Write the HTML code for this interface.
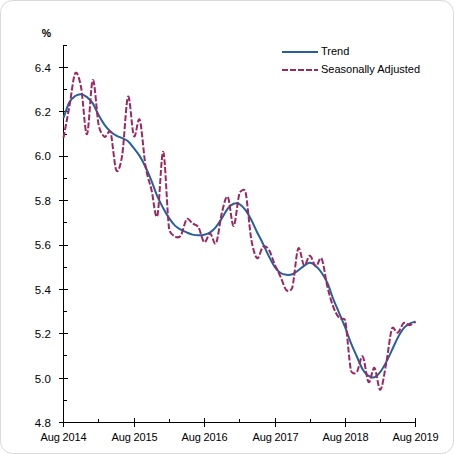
<!DOCTYPE html>
<html><head><meta charset="utf-8"><style>
html,body{margin:0;padding:0;background:#fff;width:454px;height:454px;overflow:hidden}
svg{display:block}
text{font-family:"Liberation Sans",sans-serif}
</style></head><body>
<svg width="454" height="454" viewBox="0 0 454 454">
<rect x="0.5" y="0.5" width="453" height="453" rx="12" ry="12" fill="#fff" stroke="#d9d9d9" stroke-width="1"/>
<path d="M63.5,45 V423 M63,422.5 H416" stroke="#000" stroke-width="1" fill="none" shape-rendering="crispEdges"/>
<path d="M63,45.5 H67 M59,67.5 H68 M63,89.5 H67 M59,111.5 H68 M63,134.5 H67 M59,156.5 H68 M63,178.5 H67 M59,200.5 H68 M63,222.5 H67 M59,245.5 H68 M63,267.5 H67 M59,289.5 H68 M63,311.5 H67 M59,333.5 H68 M63,355.5 H67 M59,378.5 H68 M63,400.5 H67 M59,422.5 H68 M63.5,418 V427 M98.5,419 V422 M134.5,418 V427 M169.5,419 V422 M204.5,418 V427 M239.5,419 V422 M275.5,418 V427 M310.5,419 V422 M345.5,418 V427 M380.5,419 V422 M415.5,418 V427" stroke="#000" stroke-width="1" fill="none" shape-rendering="crispEdges"/>
<path d="M63.50,118.00 C64.48,115.38 67.41,105.97 69.37,102.30 C71.32,98.63 73.28,97.35 75.23,96.00 C77.19,94.65 79.14,94.02 81.10,94.20 C83.06,94.38 85.01,95.57 86.97,97.10 C88.92,98.63 90.88,100.37 92.83,103.40 C94.79,106.43 96.74,111.73 98.70,115.30 C100.66,118.87 102.61,122.12 104.57,124.80 C106.52,127.48 108.48,129.60 110.43,131.40 C112.39,133.20 114.34,134.47 116.30,135.60 C118.26,136.73 120.21,137.25 122.17,138.20 C124.12,139.15 126.08,139.63 128.03,141.30 C129.99,142.97 131.94,145.73 133.90,148.20 C135.86,150.67 137.81,152.93 139.77,156.10 C141.72,159.27 143.68,163.07 145.63,167.20 C147.59,171.33 149.54,176.03 151.50,180.90 C153.46,185.77 155.41,191.85 157.37,196.40 C159.32,200.95 161.28,204.58 163.23,208.20 C165.19,211.82 167.14,215.20 169.10,218.10 C171.06,221.00 173.01,223.68 174.97,225.60 C176.92,227.52 178.88,228.47 180.83,229.60 C182.79,230.73 184.74,231.57 186.70,232.40 C188.66,233.23 190.61,234.12 192.57,234.60 C194.52,235.08 196.48,235.28 198.43,235.30 C200.39,235.32 202.34,235.18 204.30,234.70 C206.26,234.22 208.21,233.72 210.17,232.40 C212.12,231.08 214.08,229.17 216.03,226.80 C217.99,224.43 219.94,221.23 221.90,218.20 C223.86,215.17 225.81,211.02 227.77,208.60 C229.72,206.18 231.68,204.43 233.63,203.70 C235.59,202.97 237.54,203.17 239.50,204.20 C241.46,205.23 243.41,207.30 245.37,209.90 C247.32,212.50 249.28,216.08 251.23,219.80 C253.19,223.52 255.14,228.22 257.10,232.20 C259.06,236.18 261.01,239.70 262.97,243.70 C264.92,247.70 266.88,252.33 268.83,256.20 C270.79,260.07 272.74,264.10 274.70,266.90 C276.66,269.70 278.61,271.68 280.57,273.00 C282.52,274.32 284.48,274.60 286.43,274.80 C288.39,275.00 290.34,274.92 292.30,274.20 C294.26,273.48 296.21,271.90 298.17,270.50 C300.12,269.10 302.08,267.08 304.03,265.80 C305.99,264.52 307.94,262.78 309.90,262.80 C311.86,262.82 313.81,264.25 315.77,265.90 C317.72,267.55 319.68,269.82 321.63,272.70 C323.59,275.58 325.54,278.75 327.50,283.20 C329.46,287.65 331.41,294.42 333.37,299.40 C335.32,304.38 337.28,308.47 339.23,313.10 C341.19,317.73 343.14,322.20 345.10,327.20 C347.06,332.20 349.01,338.22 350.97,343.10 C352.92,347.98 354.88,352.12 356.83,356.50 C358.79,360.88 360.74,366.17 362.70,369.40 C364.66,372.63 366.61,374.60 368.57,375.90 C370.52,377.20 372.48,377.87 374.43,377.20 C376.39,376.53 378.34,374.42 380.30,371.90 C382.26,369.38 384.21,365.77 386.17,362.10 C388.12,358.43 390.08,354.02 392.03,349.90 C393.99,345.78 395.94,341.03 397.90,337.40 C399.86,333.77 401.81,330.40 403.77,328.10 C405.72,325.80 407.68,324.70 409.63,323.60 C411.59,322.50 414.52,321.85 415.50,321.50" stroke="#27609f" stroke-width="2" fill="none" stroke-linejoin="round"/>
<path d="M63.50,137.80 C64.48,132.58 67.41,117.25 69.37,106.50 C71.32,95.75 73.28,76.47 75.23,73.30 C77.19,70.13 79.65,79.96 81.10,87.50 C83.06,97.65 85.01,135.43 86.97,134.20 C88.92,132.97 90.88,81.60 92.83,80.10 C94.79,78.60 96.74,115.75 98.70,125.20 C100.02,131.56 102.61,135.68 104.57,136.80 C106.52,137.92 109.17,128.29 110.43,131.90 C112.39,137.50 114.34,166.48 116.30,170.40 C118.26,174.32 120.90,163.35 122.17,155.40 C124.12,143.12 126.08,99.92 128.03,96.70 C129.99,93.48 131.94,132.23 133.90,136.10 C135.86,139.97 137.81,114.80 139.77,119.90 C141.72,125.00 143.68,155.03 145.63,166.70 C147.59,178.37 149.54,181.73 151.50,189.90 C153.46,198.07 155.41,222.03 157.37,215.70 C159.32,209.37 161.28,149.72 163.23,151.90 C165.19,154.08 167.14,214.70 169.10,228.80 C169.76,233.59 173.01,235.38 174.97,236.50 C176.92,237.62 179.16,237.96 180.83,235.50 C182.79,232.62 184.74,221.20 186.70,219.20 C188.66,217.20 190.61,222.17 192.57,223.50 C194.52,224.83 196.60,224.26 198.43,227.20 C200.39,230.33 202.34,241.27 204.30,242.30 C206.26,243.33 208.21,233.25 210.17,233.40 C212.12,233.55 214.08,246.63 216.03,243.20 C217.99,239.77 219.94,220.52 221.90,212.80 C223.86,205.08 225.81,194.70 227.77,196.90 C229.72,199.10 231.68,226.58 233.63,226.00 C235.59,225.42 237.54,199.18 239.50,193.40 C240.50,190.45 244.59,188.28 245.37,191.30 C247.32,198.90 249.28,227.85 251.23,239.00 C252.97,248.89 255.14,256.90 257.10,258.20 C259.06,259.50 261.01,248.22 262.97,246.80 C264.92,245.38 267.02,246.98 268.83,249.70 C270.79,252.63 272.74,259.88 274.70,264.40 C276.66,268.92 278.61,272.48 280.57,276.80 C282.52,281.12 284.48,288.53 286.43,290.30 C288.39,292.07 291.41,290.55 292.30,287.40 C294.26,280.45 296.21,252.32 298.17,248.60 C300.12,244.88 302.08,263.90 304.03,265.10 C305.99,266.30 307.94,255.58 309.90,255.80 C311.86,256.02 313.81,265.90 315.77,266.40 C317.72,266.90 319.68,255.35 321.63,258.80 C323.59,262.25 325.54,279.05 327.50,287.10 C329.46,295.15 331.41,301.97 333.37,307.10 C335.32,312.23 337.28,315.73 339.23,317.90 C341.19,320.07 344.42,317.04 345.10,320.10 C347.06,328.85 349.01,361.73 350.97,370.40 C351.64,373.38 354.88,374.43 356.83,372.10 C358.79,369.77 360.74,354.73 362.70,356.40 C364.66,358.07 366.61,380.18 368.57,382.10 C370.52,384.02 372.48,366.63 374.43,367.90 C376.39,369.17 378.34,390.42 380.30,389.70 C382.26,388.98 384.21,373.82 386.17,363.60 C388.12,353.38 390.08,333.57 392.03,328.40 C393.31,325.03 395.94,333.52 397.90,332.60 C399.86,331.68 401.81,324.13 403.77,322.90 C405.72,321.67 407.68,325.37 409.63,325.20 C411.59,325.03 414.52,322.45 415.50,321.90" stroke="#9a2862" stroke-width="2" fill="none" stroke-dasharray="6 2"/>
<path d="M282,52 H318" stroke="#27609f" stroke-width="2" fill="none"/>
<path d="M282,70 H318" stroke="#9a2862" stroke-width="2" fill="none" stroke-dasharray="6 2"/>
<g font-family="Liberation Sans, sans-serif" font-size="11px" fill="#000">
<text x="50.8" y="72.0" text-anchor="end" font-size="11.5px">6.4</text>
<text x="50.8" y="116.0" text-anchor="end" font-size="11.5px">6.2</text>
<text x="50.8" y="160.0" text-anchor="end" font-size="11.5px">6.0</text>
<text x="50.8" y="205.0" text-anchor="end" font-size="11.5px">5.8</text>
<text x="50.8" y="249.0" text-anchor="end" font-size="11.5px">5.6</text>
<text x="50.8" y="294.0" text-anchor="end" font-size="11.5px">5.4</text>
<text x="50.8" y="338.0" text-anchor="end" font-size="11.5px">5.2</text>
<text x="50.8" y="383.0" text-anchor="end" font-size="11.5px">5.0</text>
<text x="50.8" y="427.0" text-anchor="end" font-size="11.5px">4.8</text>
<text x="63.5" y="441.0" text-anchor="middle" letter-spacing="-0.15">Aug 2014</text>
<text x="134.5" y="441.0" text-anchor="middle" letter-spacing="-0.15">Aug 2015</text>
<text x="204.5" y="441.0" text-anchor="middle" letter-spacing="-0.15">Aug 2016</text>
<text x="275.5" y="441.0" text-anchor="middle" letter-spacing="-0.15">Aug 2017</text>
<text x="345.5" y="441.0" text-anchor="middle" letter-spacing="-0.15">Aug 2018</text>
<text x="415.5" y="441.0" text-anchor="middle" letter-spacing="-0.15">Aug 2019</text>
<text x="46.4" y="37.0" text-anchor="middle" font-weight="bold" font-size="10.5px">%</text>
<text x="321.0" y="55.0" text-anchor="start">Trend</text>
<text x="321.0" y="73.0" text-anchor="start">Seasonally Adjusted</text>
</g>
</svg>
</body></html>
